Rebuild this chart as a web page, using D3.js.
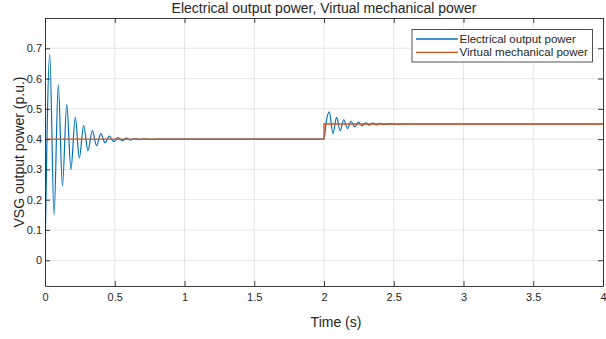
<!DOCTYPE html>
<html>
<head>
<meta charset="utf-8">
<script src="https://cdn.jsdelivr.net/npm/d3@7"></script>
<style>
  body { margin: 0; background: #fff; }
  text { font-family: "Liberation Sans", Arial, sans-serif; fill: #262626; }
</style>
</head>
<body>
<svg id="chart" width="606" height="339"></svg>
<script>
// Electrical output power: turning points of the damped swing after start-up and after the step at 2 s
const elecTime = [
  0, 0.034, 0.065, 0.095, 0.125, 0.156, 0.186, 0.217, 0.246, 0.277, 0.308,
  0.339, 0.370, 0.400, 0.430, 0.461, 0.492, 0.523, 0.553, 0.584, 0.614,
  0.645, 0.676, 0.707, 0.738, 0.80,
  2.0, 2.015, 2.038, 2.064, 2.090, 2.116, 2.142, 2.168, 2.194, 2.220,
  2.246, 2.272, 2.298, 2.324, 2.350, 2.376, 2.402, 2.428, 2.48, 2.53, 2.60,
  4.0
];
const elecPower = [
  0, 0.68, 0.15, 0.58, 0.245, 0.515, 0.30, 0.472, 0.338, 0.445, 0.362,
  0.428, 0.378, 0.418, 0.388, 0.410, 0.392, 0.405, 0.395, 0.403, 0.397,
  0.402, 0.398, 0.401, 0.399, 0.40,
  0.40, 0.455, 0.490, 0.418, 0.472, 0.428, 0.464, 0.435, 0.459, 0.441,
  0.456, 0.444, 0.454, 0.446, 0.453, 0.447, 0.452, 0.448, 0.451, 0.449, 0.45,
  0.45
];

// Virtual mechanical power: reference step from 0.4 to 0.45 p.u. at 2 s
const mechTime = [0, 2, 2, 4];
const mechPower = [0.40, 0.40, 0.45, 0.45];

const seriesNames = ["Electrical output power", "Virtual mechanical power"];
const seriesColors = ["#0072BD", "#D95319"];

const xTicks = [0, 0.5, 1, 1.5, 2, 2.5, 3, 3.5, 4];
const xTickLabels = ["0", "0.5", "1", "1.5", "2", "2.5", "3", "3.5", "4"];
const yTicks = [0, 0.1, 0.2, 0.3, 0.4, 0.5, 0.6, 0.7];
const yTickLabels = ["0", "0.1", "0.2", "0.3", "0.4", "0.5", "0.6", "0.7"];

const titleText = "Electrical output power, Virtual mechanical power";
const xLabel = "Time (s)";
const yLabel = "VSG output power (p.u.)";

// ---- layout ----
const svg = d3.select("#chart");
const plot = { left: 45, right: 603, top: 18, bottom: 286 };
const axisColor = "#262626";
const gridColor = "#dfdfdf";

const x = d3.scaleLinear().domain([0, 4]).range([plot.left, plot.right]);
const y = d3.scaleLinear().domain([-0.085, 0.8]).range([plot.bottom, plot.top]);

svg.append("defs").append("clipPath").attr("id", "plotClip")
  .append("rect")
  .attr("x", plot.left).attr("y", plot.top)
  .attr("width", plot.right - plot.left).attr("height", plot.bottom - plot.top);

// grid
const grid = svg.append("g").attr("stroke", gridColor).attr("stroke-width", 0.8);
grid.selectAll("line.gx").data(xTicks.slice(1, -1)).join("line")
  .attr("x1", d => x(d)).attr("x2", d => x(d))
  .attr("y1", plot.top).attr("y2", plot.bottom);
grid.selectAll("line.gy").data(yTicks).join("line")
  .attr("x1", plot.left).attr("x2", plot.right)
  .attr("y1", d => y(d)).attr("y2", d => y(d));

// series
const elecData = elecTime.map((t, i) => [t, elecPower[i]]);
const mechData = mechTime.map((t, i) => [t, mechPower[i]]);

const lines = svg.append("g").attr("clip-path", "url(#plotClip)").attr("fill", "none");
lines.append("path")
  .datum(elecData)
  .attr("stroke", seriesColors[0]).attr("stroke-width", 1.2)
  .attr("d", d3.line().x(d => x(d[0])).y(d => y(d[1])).curve(d3.curveMonotoneX));
lines.append("path")
  .datum(mechData)
  .attr("stroke", seriesColors[1]).attr("stroke-width", 1.3)
  .attr("d", d3.line().x(d => x(d[0])).y(d => y(d[1])));

// axes (ticks pointing inward, box on all four sides)
function styleAxis(g) {
  g.selectAll("path, line").attr("stroke", axisColor).attr("stroke-width", 0.9);
  g.selectAll("text").attr("fill", axisColor).style("font-size", "11px")
    .style("font-family", '"Liberation Sans", Arial, sans-serif');
}

svg.append("g").attr("transform", `translate(0,${plot.bottom})`)
  .call(d3.axisBottom(x).tickValues(xTicks).tickFormat((d, i) => xTickLabels[i])
    .tickSizeInner(-5).tickSizeOuter(0).tickPadding(7))
  .call(styleAxis);
svg.append("g").attr("transform", `translate(0,${plot.top})`)
  .call(d3.axisTop(x).tickValues(xTicks).tickFormat("")
    .tickSizeInner(-5).tickSizeOuter(0))
  .call(styleAxis);
svg.append("g").attr("transform", `translate(${plot.left},0)`)
  .call(d3.axisLeft(y).tickValues(yTicks).tickFormat((d, i) => yTickLabels[i])
    .tickSizeInner(-5).tickSizeOuter(0).tickPadding(3))
  .call(styleAxis);
svg.append("g").attr("transform", `translate(${plot.right},0)`)
  .call(d3.axisRight(y).tickValues(yTicks).tickFormat("")
    .tickSizeInner(-5).tickSizeOuter(0))
  .call(styleAxis);
svg.selectAll(".domain").attr("fill", "none");

// titles
svg.append("text")
  .attr("x", (plot.left + plot.right) / 2).attr("y", 12.5)
  .attr("text-anchor", "middle").style("font-size", "14px")
  .text(titleText);
svg.append("text")
  .attr("x", 336).attr("y", 327)
  .attr("text-anchor", "middle").style("font-size", "14px")
  .text(xLabel);
svg.append("text")
  .attr("transform", `translate(23.5,${(plot.top + plot.bottom) / 2}) rotate(-90)`)
  .attr("text-anchor", "middle").style("font-size", "14px")
  .text(yLabel);

// legend
const legend = svg.append("g").attr("transform", "translate(412,29.5)");
legend.append("rect")
  .attr("width", 180.5).attr("height", 32.5)
  .attr("fill", "#fff").attr("stroke", axisColor).attr("stroke-width", 0.8);
seriesNames.forEach((name, i) => {
  const cy = 9.5 + i * 13.3;
  legend.append("line")
    .attr("x1", 4).attr("x2", 46).attr("y1", cy).attr("y2", cy)
    .attr("stroke", seriesColors[i]).attr("stroke-width", 1.3);
  legend.append("text")
    .attr("x", 47.5).attr("y", cy).attr("dy", "0.35em")
    .style("font-size", "11.5px")
    .text(name);
});
</script>
</body>
</html>
